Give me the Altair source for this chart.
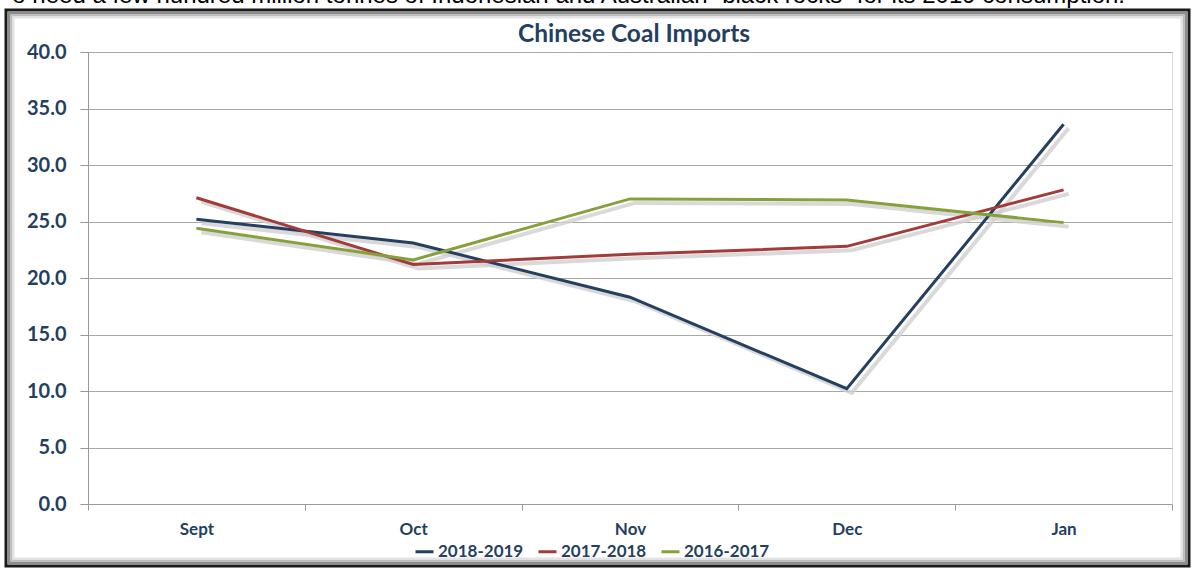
import altair as alt
import pandas as pd

months = ["Sept", "Oct", "Nov", "Dec", "Jan"]
series_names = ["2018-2019", "2017-2018", "2016-2017"]
s_2018_2019 = [25.2, 23.1, 18.3, 10.2, 33.6]
s_2017_2018 = [27.1, 21.2, 22.1, 22.8, 27.8]
s_2016_2017 = [24.4, 21.6, 27.0, 26.9, 24.9]
colors = ["#243F60", "#A23B3A", "#86A03C"]
y_ticks = [0, 5, 10, 15, 20, 25, 30, 35, 40]
title_text = "Chinese Coal Imports"
top_text = "o need a few hundred million tonnes of Indonesian and Australian \u201cblack rocks\u201d for its 2019 consumption."

rows = []
for name, vals in zip(series_names, [s_2018_2019, s_2017_2018, s_2016_2017]):
    for m, v in zip(months, vals):
        rows.append({"month": m, "series": name, "value": v})
df = pd.DataFrame(rows)

W, H = 1084, 452
PL, PT, PR, PB = 88, 52, 24, 66
NAVY = "#243F60"
FONT = "Lato"

one = alt.Data(values=[{}])

def frame_rect(inset, color, sw):
    return alt.Chart(one).mark_rect(stroke=color, strokeWidth=sw, fillOpacity=0).encode(
        x=alt.value(-82 + inset), x2=alt.value(W + 17 - inset),
        y=alt.value(-42 + inset), y2=alt.value(H + 62 - inset),
    )

frame = alt.layer(
    frame_rect(0, "#1a1a1a", 3),
    frame_rect(3, "#8c8c8c", 3),
    frame_rect(5.5, "#bdbdbd", 2),
    frame_rect(7.5, "#e3e3e3", 2),
)

top_line = alt.Chart(one).mark_text(
    align="right", baseline="alphabetic", fontSize=24, font="Liberation Sans", color="black"
).encode(x=alt.value(1125 - PL), y=alt.value(3 - PT), text=alt.value(top_text))

title = alt.Chart(one).mark_text(
    align="center", baseline="middle", fontSize=24.5, font=FONT, fontWeight="bold", color=NAVY
).encode(x=alt.value(W / 2 + 4), y=alt.value(35 - PT), text=alt.value(title_text))

x_enc = alt.X("month:N", sort=months, title=None,
              scale=alt.Scale(paddingInner=0, paddingOuter=0),
              axis=alt.Axis(labelAngle=0, labelFont=FONT, labelFontSize=17, labelFontWeight="bold",
                            labelColor=NAVY, labelPadding=11, tickBand="extent", tickSize=6,
                            tickColor="#9a9a9a", domainColor="#9a9a9a", grid=False))
y_enc = alt.Y("value:Q", title=None,
              scale=alt.Scale(domain=[0, 40], nice=False),
              axis=alt.Axis(values=y_ticks, format=".1f", labelFont=FONT, labelFontSize=20,
                            labelFontWeight="bold", labelColor=NAVY, labelPadding=14, tickSize=8,
                            tickColor="#9a9a9a", domainColor="#9a9a9a", gridColor="#a8a8a8",
                            gridWidth=1))

color_enc = alt.Color("series:N", sort=series_names,
                      scale=alt.Scale(domain=series_names, range=colors),
                      legend=alt.Legend(title=None, orient="none", direction="horizontal",
                                        legendX=326, legendY=489, symbolType="stroke",
                                        symbolSize=324, symbolStrokeWidth=3, labelFont=FONT,
                                        labelFontSize=17, labelFontWeight="bold", labelColor=NAVY,
                                        labelOffset=3, columnPadding=8))

shadow = alt.Chart(df).mark_line(strokeWidth=4, color="#cfcfcf", opacity=0.8, xOffset=5, yOffset=4).encode(
    x=x_enc, y=y_enc, detail="series:N")

lines = alt.Chart(df).mark_line(strokeWidth=3).encode(
    x=x_enc, y=y_enc, color=color_enc)

chart = alt.layer(frame, top_line, title, shadow, lines).properties(
    width=W, height=H,
    autosize=alt.AutoSizeParams(type="none"),
    padding={"left": PL, "top": PT, "right": PR, "bottom": PB},
).configure_view(stroke=None).configure(background="white")

chart.save("out.html", embed_options={"renderer": "svg", "actions": False})
